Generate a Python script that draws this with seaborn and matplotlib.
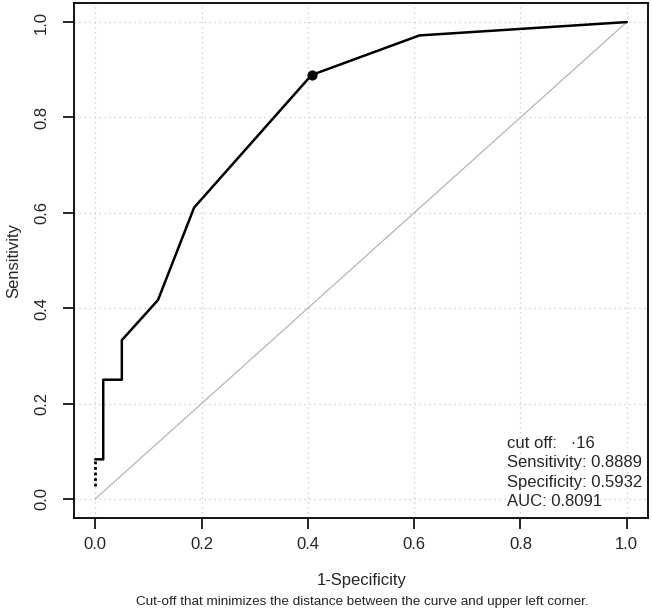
import matplotlib
matplotlib.use("Agg")
import matplotlib.pyplot as plt
import seaborn as sns
import pandas as pd

# ROC curve data (1-Specificity, Sensitivity)
fpr = [0.0, 0.015, 0.015, 0.05, 0.05, 0.118, 0.186, 0.407, 0.61, 1.0]
tpr = [0.083, 0.083, 0.25, 0.25, 0.333, 0.417, 0.611, 0.889, 0.972, 1.0]
# dotted tail at origin
tail_x = [0.0, 0.0]
tail_y = [0.028, 0.083]
# optimal cut-off point
opt_x = [0.407]
opt_y = [0.889]
# chance line
diag = [0.0, 1.0]
ticks = [0.0, 0.2, 0.4, 0.6, 0.8, 1.0]
tick_labels = ["0.0", "0.2", "0.4", "0.6", "0.8", "1.0"]
stats_lines = ["cut off:   \u00b716", "Sensitivity: 0.8889", "Specificity: 0.5932", "AUC: 0.8091"]

sns.set_style("white")
plt.rcParams['font.family'] = ['Liberation Sans', 'DejaVu Sans']

fig = plt.figure(figsize=(6.52, 6.13), dpi=100)
ax = fig.add_axes([74/652, 1-518/613, (648-74)/652, (518-3)/613])

for t in ticks:
    ax.axvline(t, color="#c8c8c8", lw=0.9, ls=(0, (1, 3)), zorder=0)
    ax.axhline(t, color="#c8c8c8", lw=0.9, ls=(0, (1, 3)), zorder=0)

df_diag = pd.DataFrame({"x": diag, "y": diag})
sns.lineplot(data=df_diag, x="x", y="y", ax=ax, color="#b5b5b5", lw=0.9,
             sort=False, estimator=None)

df_curve = pd.DataFrame({"x": fpr, "y": tpr})
sns.lineplot(data=df_curve, x="x", y="y", ax=ax, color="black", lw=1.8,
             sort=False, estimator=None)

df_tail = pd.DataFrame({"x": tail_x, "y": tail_y})
sns.lineplot(data=df_tail, x="x", y="y", ax=ax, color="black", lw=2.0,
             ls=(0, (1, 1)), sort=False, estimator=None)

df_opt = pd.DataFrame({"x": opt_x, "y": opt_y})
sns.scatterplot(data=df_opt, x="x", y="y", ax=ax, color="black", s=45,
                edgecolor="black", zorder=5)

ax.set_xlim(-0.04, 1.04)
ax.set_ylim(-0.04, 1.04)
ax.set_xticks(ticks)
ax.set_xticklabels(tick_labels, fontsize=12)
ax.set_yticks(ticks)
ax.set_yticklabels(tick_labels, fontsize=12, rotation=90, va="center")
ax.tick_params(axis="both", direction="out", length=8, width=1.2, color="black",
               bottom=True, left=True, pad=6)
ax.tick_params(axis="y", pad=10)
for s in ax.spines.values():
    s.set_color("black")
    s.set_linewidth(1.3)
ax.set_xlabel("")
ax.set_ylabel("Sensitivity", fontsize=12)
ax.yaxis.set_label_coords(-0.092, 0.5)

fig.text(362 / 652, 1 - 580 / 613, "1-Specificity", ha="center", va="center", fontsize=12)
fig.text(362 / 652, 1 - 602 / 613,
         "Cut-off that minimizes the distance between the curve and upper left corner.",
         ha="center", va="center", fontsize=9.7)

ys = [443, 463, 482, 502]
for line, yp in zip(stats_lines, ys):
    fig.text(507 / 652, 1 - yp / 613, line, ha="left", va="center", fontsize=12)

fig.savefig("out.png", dpi=100, facecolor="white")
